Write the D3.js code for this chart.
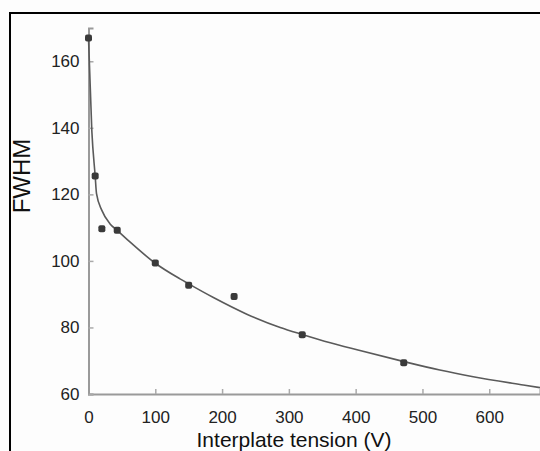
<!DOCTYPE html>
<html>
<head>
<meta charset="utf-8">
<script src="https://cdn.jsdelivr.net/npm/d3@7"></script>
<style>
    html, body { margin: 0; padding: 0; background: #fff; }
    svg { display: block; font-family: "Liberation Sans", Arial, sans-serif; }
</style>
</head>
<body>
<div id="chart"></div>
<script>
// measured points (V, FWHM)
const pointTension = [0, 10, 20, 43, 100, 150, 218, 320, 472];
const pointFwhm = [167, 125.5, 109.7, 109.2, 99.4, 92.7, 89.3, 77.8, 69.4];

// fitted curve
const curveTension = [0, 5, 10, 12, 20, 32, 43, 62, 100, 137, 150, 187, 237, 287, 320, 362, 402, 471, 526, 576, 651, 676];
const curveFwhm = [167, 139, 125.5, 120.2, 115.2, 111.2, 109.2, 105.7, 99.3, 94.6, 93.1, 89.0, 84.0, 80.0, 77.9, 75.4, 73.3, 69.8, 67.2, 65.2, 62.7, 61.9];

const xTicks = [0, 100, 200, 300, 400, 500, 600];
const yTicks = [60, 80, 100, 120, 140, 160];

const width = 540;
const height = 451;

const svg = d3.select('#chart')
    .append('svg')
    .attr('width', width)
    .attr('height', height);

svg.append('rect')
    .attr('width', width)
    .attr('height', height)
    .attr('fill', '#fdfdfd');

const x = d3.scaleLinear().domain([0, 676]).range([88.5, 540]);
const y = d3.scaleLinear().domain([60, 170]).range([394, 28]);

// frame (only top and left edges show)
svg.append('path')
    .attr('d', `M10,451 V13 H540`)
    .attr('fill', 'none')
    .attr('stroke', '#000')
    .attr('stroke-width', 2);

// axes
const xAxis = svg.append('g')
    .attr('transform', `translate(0,${y(60)})`)
    .call(d3.axisBottom(x).tickValues(xTicks).tickSize(-5).tickPadding(17));

const yAxis = svg.append('g')
    .attr('transform', `translate(${x(0)},0)`)
    .call(d3.axisLeft(y).tickValues(yTicks).tickSize(-5).tickPadding(9));

[xAxis, yAxis].forEach(g => {
    g.select('.domain').attr('stroke', '#9a9a9a').attr('stroke-width', 2);
    g.selectAll('.tick line').attr('stroke', '#aaa').attr('stroke-width', 1.5);
    g.selectAll('.tick text')
        .attr('fill', '#222')
        .attr('font-size', '17px')
        .attr('font-family', '"Liberation Sans", Arial, sans-serif');
});

// fitted curve
const line = d3.line()
    .x((d, i) => x(curveTension[i]))
    .y(d => y(d))
    .curve(d3.curveMonotoneX);

svg.append('path')
    .datum(curveFwhm)
    .attr('fill', 'none')
    .attr('stroke', '#5a5a5a')
    .attr('stroke-width', 1.6)
    .attr('d', line);

// points
svg.selectAll('.pt')
    .data(pointFwhm)
    .enter()
    .append('rect')
    .attr('class', 'pt')
    .attr('x', (d, i) => x(pointTension[i]) - 3.5)
    .attr('y', d => y(d) - 3.5)
    .attr('width', 7)
    .attr('height', 7)
    .attr('rx', 2)
    .attr('fill', '#3a3a3a');

// axis titles
svg.append('text')
    .attr('x', 294)
    .attr('y', 447)
    .attr('text-anchor', 'middle')
    .attr('font-size', '21px')
    .attr('fill', '#111')
    .text('Interplate tension (V)');

svg.append('text')
    .attr('transform', 'translate(30,176) rotate(-90)')
    .attr('text-anchor', 'middle')
    .attr('font-size', '24px')
    .attr('fill', '#111')
    .text('FWHM');
</script>
</body>
</html>
